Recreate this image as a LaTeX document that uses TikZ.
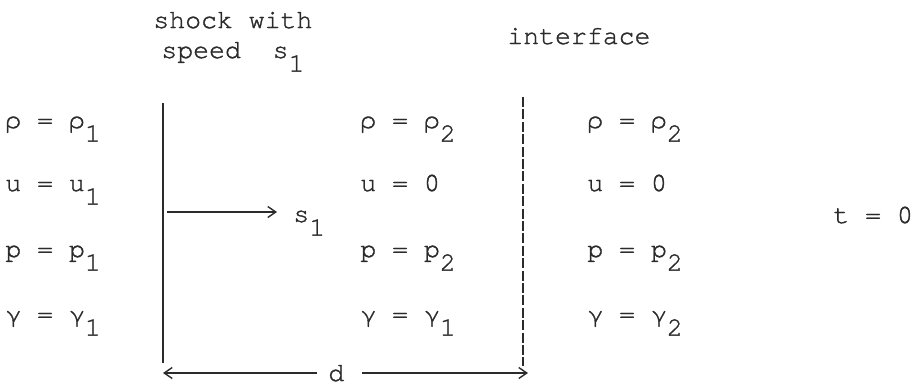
\documentclass[tikz,border=0pt]{standalone}
\usepackage{fontspec}
\setmainfont{TeX Gyre Cursor}[FakeBold=1.2]
\newfontfamily\grk{Liberation Mono}
\usetikzlibrary{arrows.meta}
\definecolor{ink}{HTML}{2B2B2B}
\newcommand\subdn[1]{\raisebox{-6.8pt}{#1}}
\begin{document}
\begin{tikzpicture}[x=0.5pt,y=-0.5pt,
  txt/.style={anchor=base west,inner sep=0pt,text=ink,font=\fontsize{13.25}{16}\selectfont},
  arr/.style={draw=ink,line width=0.7pt,-{Straight Barb[length=4pt,width=5.5pt,line width=0.7pt]}},
  solidline/.style={draw=ink,line width=0.85pt},
  dashline/.style={draw=ink,line width=1.3pt,dash pattern=on 5pt off 1.2pt}]
\useasboundingbox (0,0) rectangle (912,388);
% headings
\node[txt] (h1) at (153,28) {shock with};
\node[txt] (h2) at (161,58) {speed\ \ s\subdn{1}};
\node[txt] (h3) at (507,44) {interface};
% left column
\node[txt] (a1) at (5,128) {ρ = ρ\subdn{1}};
\node[txt] (a2) at (5,191) {u = u\subdn{1}};
\node[txt] (a3) at (5,257) {p = p\subdn{1}};
\node[txt] (a4) at (5,322) {γ = γ\subdn{1}};
% middle column
\node[txt] (b1) at (360,128) {ρ = ρ\subdn{2}};
\node[txt] (b2) at (360,191) {u = 0};
\node[txt] (b3) at (360,257) {p = p\subdn{2}};
\node[txt] (b4) at (360,322) {γ = γ\subdn{1}};
% right column
\node[txt] (c1) at (587,128) {ρ = ρ\subdn{2}};
\node[txt] (c2) at (587,191) {u = 0};
\node[txt] (c3) at (587,257) {p = p\subdn{2}};
\node[txt] (c4) at (587,322) {γ = γ\subdn{2}};
% time
\node[txt] (t0) at (833,223) {t = 0};
% shock speed label
\node[txt] (sl) at (293,222) {s\subdn{1}};
% d label
\node[txt] (dl) at (328,381) {d};
% lines
\coordinate (shT) at (163,103);
\coordinate (shB) at (163,363);
\coordinate (ifT) at (523,97);
\coordinate (ifB) at (523,366);
\coordinate (sA) at (167,212);
\coordinate (sTip) at (277,212);
\coordinate (dL) at (163,373);
\coordinate (dLg) at (317,373);
\coordinate (dRg) at (362,373);
\coordinate (dR) at (528,373);
\draw[solidline] (shT) -- (shB);
\draw[dashline] (ifT) -- (ifB);
\draw[arr] (sA) -- (sTip);
\draw[arr] (dLg) -- (dL);
\draw[arr] (dRg) -- (dR);
\end{tikzpicture}
\end{document}
